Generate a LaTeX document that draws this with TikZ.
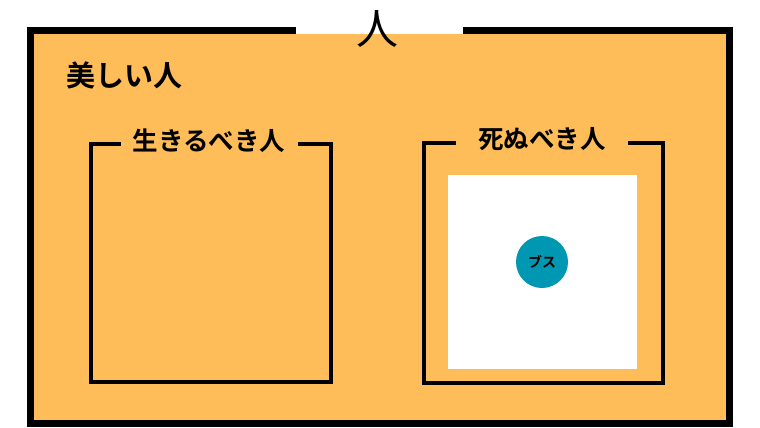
\documentclass[tikz,border=0pt]{standalone}
\usepackage{fontspec}
\newfontfamily\cjk[BoldFont={* Bold}]{Noto Sans CJK JP}
\definecolor{bgorange}{HTML}{FFBD59}
\definecolor{teal}{HTML}{0097B2}
\tikzset{
  frame/.style={draw=black, line width=#1, inner sep=0pt, outer sep=0pt, anchor=north west},
  gaplabel/.style={fill=bgorange, inner sep=0pt, minimum height=22pt, font=\cjk\bfseries\fontsize{25.5pt}{26pt}\selectfont},
}
\begin{document}
\begin{tikzpicture}[x=1pt,y=-1pt]
\useasboundingbox (0,0) rectangle (760,428);
\node[frame=7pt, fill=bgorange, minimum width=699pt, minimum height=393pt] (outer) at (30.5,30.5) {};
\fill[white] (296,20) rectangle (463,34.5);
\node[font=\cjk\fontsize{42pt}{44pt}\selectfont, inner sep=0pt] (title) at (377,29) {人};
\node[font=\cjk\bfseries\fontsize{29pt}{30pt}\selectfont, inner sep=0pt] (beauty) at (124.5,75) {美しい人};
\node[frame=4pt, minimum width=240pt, minimum height=238pt] (live) at (91,144) {};
\node[frame=4pt, minimum width=239pt, minimum height=240pt] (die) at (424,143) {};
\node[gaplabel, minimum width=177pt] (livelabel) at (209,141) {生きるべき人};
\node[gaplabel, minimum width=172pt] (dielabel) at (542,139) {死ぬべき人};
\node[fill=white, inner sep=0pt, minimum width=189pt, minimum height=194pt, anchor=north west] (white) at (448,175) {};
\node[circle, fill=teal, inner sep=0pt, minimum size=52pt, font=\cjk\bfseries\fontsize{14pt}{15pt}\selectfont] (busu) at (542,262) {ブス};
\end{tikzpicture}
\end{document}
